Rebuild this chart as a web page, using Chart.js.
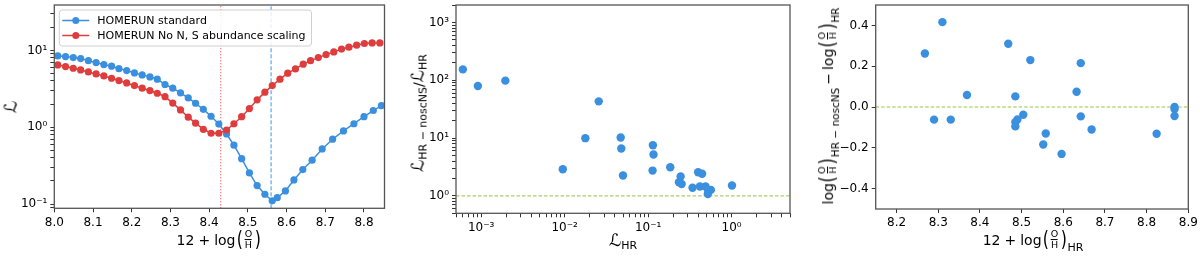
<!DOCTYPE html>
<html>
<head>
<meta charset="utf-8">
<script src="https://cdn.jsdelivr.net/npm/chart.js@4.4.1/dist/chart.umd.min.js"></script>
<style>
body { margin:0; background:#fff; width:1200px; height:256px; position:relative; overflow:hidden; font-family:'DejaVu Sans', sans-serif; }
.painel { position:absolute; top:0; width:400px; height:256px; }
.lbl { position:absolute; white-space:nowrap; color:#000; font-size:14px; line-height:1; display:flex; align-items:center; transform:translate(-50%,-50%); }
.rot { transform:translate(-50%,-50%) rotate(-90deg); }
.frac { display:inline-flex; flex-direction:column; align-items:center; font-size:9.5px; line-height:1.1; margin:0 1px; }
.frac .den { border-top:1px solid #000; }
.par { font-size:21px; line-height:1; transform:scaleX(0.75); }
.op { margin:0 4px; }
.cal { font-size:17px; font-style:italic; }
.sub { font-size:11px; align-self:flex-end; position:relative; top:2px; }
.aperta .op { margin:0 3px; }
.aperta .sub { font-size:10.5px; }
</style>
</head>
<body>
<div class="painel" style="left:0"><canvas id="line-chart" width="400" height="256"></canvas></div>
<div class="painel" style="left:400px"><canvas id="line-chart2" width="400" height="256"></canvas></div>
<div class="painel" style="left:800px"><canvas id="line-chart3" width="400" height="256"></canvas></div>

<!-- titulos dos eixos -->
<div class="lbl rot" style="left:11px;top:107px"><span class="cal">ℒ</span></div>
<div class="lbl" style="left:219px;top:240px">12<span class="op">+</span>log<span class="par">(</span><span class="frac"><span>O</span><span class="den">H</span></span><span class="par">)</span></div>

<div class="lbl rot" style="left:418px;top:113px"><span class="cal">ℒ</span><span class="sub">HR − noscNS</span>/<span class="cal">ℒ</span><span class="sub">HR</span></div>
<div class="lbl" style="left:623px;top:240px"><span class="cal">ℒ</span><span class="sub">HR</span></div>

<div class="lbl rot aperta" style="left:828px;top:106px">log<span class="par">(</span><span class="frac"><span>O</span><span class="den">H</span></span><span class="par">)</span><span class="sub">HR − noscNS</span><span class="op">−</span>log<span class="par">(</span><span class="frac"><span>O</span><span class="den">H</span></span><span class="par">)</span><span class="sub">HR</span></div>
<div class="lbl" style="left:1033px;top:240px">12<span class="op">+</span>log<span class="par">(</span><span class="frac"><span>O</span><span class="den">H</span></span><span class="par">)</span><span class="sub">HR</span></div>

<script>
// ////////// DADOS //////////

// grafico 1: likelihood vs 12+log(O/H)
var xGrid = [8.009, 8.029, 8.049, 8.068, 8.088, 8.108, 8.128, 8.148, 8.167, 8.187,
	8.207, 8.227, 8.247, 8.266, 8.286, 8.306, 8.326, 8.346, 8.365, 8.385,
	8.405, 8.425, 8.445, 8.464, 8.484, 8.504, 8.524, 8.544, 8.563, 8.583,
	8.603, 8.623, 8.643, 8.662, 8.682, 8.702, 8.722, 8.742, 8.761, 8.781,
	8.801, 8.821, 8.841];
var redL = [6.48, 6.15, 5.86, 5.57, 5.25, 4.94, 4.66, 4.34, 4.05, 3.77,
	3.48, 3.22, 3.00, 2.77, 2.50, 2.06, 1.68, 1.35, 1.13, 0.94,
	0.835, 0.835, 0.92, 1.11, 1.37, 1.75, 2.27, 2.86, 3.48, 4.22,
	5.05, 5.74, 6.61, 7.36, 8.06, 8.82, 9.56, 10.4, 11.0, 11.7,
	12.3, 12.5, 12.5];
var xBlue = [8.009, 8.029, 8.049, 8.068, 8.088, 8.108, 8.128, 8.148, 8.167, 8.187,
	8.207, 8.227, 8.247, 8.266, 8.286, 8.306, 8.326, 8.346, 8.365, 8.385,
	8.405, 8.425, 8.445, 8.464, 8.484, 8.504, 8.524, 8.544, 8.563,
	8.576, 8.597, 8.619, 8.642, 8.666, 8.692, 8.719, 8.747, 8.774, 8.800,
	8.824, 8.845];
var blueL = [8.48, 8.30, 8.06, 7.82, 7.36, 6.94, 6.53, 6.23, 5.79, 5.46,
	5.09, 4.80, 4.52, 4.22, 3.60, 3.22, 2.80, 2.41, 2.05, 1.71,
	1.39, 1.10, 0.818, 0.583, 0.390, 0.254, 0.174, 0.134, 0.110,
	0.121, 0.148, 0.206, 0.281, 0.372, 0.521, 0.698, 0.895, 1.11, 1.37,
	1.65, 1.91];
var bestRed = 8.43;
var bestBlue = 8.56;
var p1xLim = [8.0, 8.853];
var p1yLim = [0.088, 39];
var p1xTicks = [8.0, 8.1, 8.2, 8.3, 8.4, 8.5, 8.6, 8.7, 8.8];
var p1yMajor = [0.1, 1, 10];
var p1yLabels = ['10⁻¹', '10⁰', '10¹'];

// grafico 2: razao das likelihoods
var lHR = [6.04e-4, 9.14e-4, 1.95e-3, 9.5e-3, 0.0177, 0.0256, 0.0469, 0.0477, 0.050, 0.114,
	0.116, 0.113, 0.184, 0.245, 0.234, 0.252, 0.397, 0.443, 0.340, 0.417,
	0.487, 0.524, 0.564, 0.519, 1.01];
var ratio = [154, 79.3, 98.4, 2.89, 9.96, 43.1, 10.2, 6.6, 2.25, 7.5,
	5.2, 2.74, 3.13, 2.16, 1.72, 1.61, 2.56, 2.41, 1.38, 1.45,
	1.45, 1.24, 1.27, 1.08, 1.51];
var p2xLim = [5e-4, 5];
var p2yLim = [0.5, 2000];
var p2xMajor = [1e-3, 1e-2, 1e-1, 1];
var p2xLabels = ['10⁻³', '10⁻²', '10⁻¹', '10⁰'];
var p2yMajor = [1, 10, 100, 1000];
var p2yLabels = ['10⁰', '10¹', '10²', '10³'];

// grafico 3: diferenca de abundancia
var ohHR = [8.268, 8.310, 8.290, 8.330, 8.369, 8.468, 8.485, 8.485, 8.485, 8.490,
	8.504, 8.521, 8.558, 8.552, 8.596, 8.632, 8.642, 8.642, 8.668, 8.824,
	8.867, 8.867, 8.867];
var dOH = [0.262, 0.416, -0.062, -0.062, 0.059, 0.310, 0.052, -0.074, -0.095, -0.061,
	-0.038, 0.230, -0.130, -0.184, -0.230, 0.075, 0.215, -0.046, -0.110, -0.131,
	0.000, -0.010, -0.044];
var p3xLim = [8.15, 8.9];
var p3yLim = [-0.5, 0.5];
var p3xTicks = [8.2, 8.3, 8.4, 8.5, 8.6, 8.7, 8.8, 8.9];
var p3yTicks = [-0.4, -0.2, 0.0, 0.2, 0.4];
var p3yLabels = ['−0.4', '−0.2', '0.0', '0.2', '0.4'];

var blue = '#3b8fdf';
var red = '#df3d3d';
var green = '#94c63c';

Chart.defaults.font.family = "'DejaVu Sans', sans-serif";
Chart.defaults.font.size = 12;
Chart.defaults.color = '#000';

// ////////// AJUDANTES //////////

function pares(xs, ys) {
	return xs.map(function(x, i) { return { x: x, y: ys[i] }; });
}

// ticks menores de uma escala log (2..9 x 10^n)
function logTicks(lo, hi) {
	var t = [];
	for (var e = Math.floor(Math.log10(lo)); e <= Math.ceil(Math.log10(hi)); e++) {
		for (var m = 1; m < 10; m++) {
			var v = m * Math.pow(10, e);
			if (v >= lo && v <= hi) t.push(v);
		}
	}
	return t;
}

function labelFor(majors, labels) {
	return function(v) {
		for (var i = 0; i < majors.length; i++) {
			if (Math.abs(v - majors[i]) < Math.abs(majors[i]) * 1e-6 + 1e-9) return labels[i];
		}
		return '';
	};
}

function fixY(w) {
	return function(s) { s.width = w; s.paddingTop = 0; s.paddingBottom = 0; };
}
function fixX(h) {
	return function(s) { s.height = h; s.paddingLeft = 0; s.paddingRight = 0; };
}

var gridOpts = { drawOnChartArea: false, drawTicks: true, tickLength: 4, tickColor: '#333', tickWidth: 1 };

// moldura em volta da area do grafico
var caixa = {
	id: 'caixa',
	afterDatasetsDraw: function(chart) {
		var a = chart.chartArea, ctx = chart.ctx;
		ctx.save();
		ctx.strokeStyle = '#555';
		ctx.lineWidth = 1.3;
		ctx.strokeRect(a.left, a.top, a.right - a.left, a.bottom - a.top);
		ctx.restore();
	}
};

// legenda dentro do grafico 1
var legenda = {
	id: 'legenda',
	afterDraw: function(chart) {
		var ctx = chart.ctx, a = chart.chartArea;
		var itens = [chart.data.datasets[1], chart.data.datasets[0]];
		ctx.save();
		ctx.font = "11px 'DejaVu Sans'";
		var w = 0;
		itens.forEach(function(d) { w = Math.max(w, ctx.measureText(d.label).width); });
		var bx = a.left + 5, by = a.top + 5, bw = 38 + w + 6, bh = 36;
		ctx.beginPath();
		ctx.roundRect(bx, by, bw, bh, 3);
		ctx.fillStyle = 'rgba(255,255,255,0.85)';
		ctx.fill();
		ctx.strokeStyle = '#d0d0d0';
		ctx.lineWidth = 1;
		ctx.stroke();
		itens.forEach(function(d, i) {
			var y = by + 10.5 + i * 15;
			ctx.strokeStyle = d.borderColor;
			ctx.lineWidth = 1.5;
			ctx.beginPath();
			ctx.moveTo(bx + 3, y);
			ctx.lineTo(bx + 30, y);
			ctx.stroke();
			ctx.fillStyle = d.backgroundColor;
			ctx.beginPath();
			ctx.arc(bx + 16.5, y, 3.5, 0, Math.PI * 2);
			ctx.fill();
			ctx.fillStyle = '#000';
			ctx.textBaseline = 'middle';
			ctx.fillText(d.label, bx + 38, y + 0.5);
		});
		ctx.restore();
	}
};

// ////////// grafico 1 //////////
var grafico1 = new Chart(document.getElementById('line-chart'), {
	type: 'scatter',
	data: {
		datasets: [{
			label: 'HOMERUN No N, S abundance scaling',
			data: pares(xGrid, redL),
			showLine: true,
			borderColor: red,
			backgroundColor: red,
			borderWidth: 1.5,
			pointRadius: 3.6,
			pointBorderWidth: 0,
			order: 1
		}, {
			label: 'HOMERUN standard',
			data: pares(xBlue, blueL),
			showLine: true,
			borderColor: blue,
			backgroundColor: blue,
			borderWidth: 1.5,
			pointRadius: 3.6,
			pointBorderWidth: 0,
			order: 2
		}, {
			label: 'best red',
			data: [{ x: bestRed, y: p1yLim[0] }, { x: bestRed, y: p1yLim[1] }],
			showLine: true,
			borderColor: 'rgba(240,70,70,0.9)',
			borderWidth: 1,
			borderDash: [1.2, 1.8],
			pointRadius: 0,
			order: 3
		}, {
			label: 'best blue',
			data: [{ x: bestBlue, y: p1yLim[0] }, { x: bestBlue, y: p1yLim[1] }],
			showLine: true,
			borderColor: '#3399ee',
			borderWidth: 1,
			borderDash: [4, 2],
			pointRadius: 0,
			order: 3
		}]
	},
	options: {
		responsive: false,
		animation: false,
		layout: { padding: { left: 0, top: 5, right: 15.5, bottom: 0 } },
		plugins: { legend: { display: false }, tooltip: { enabled: false } },
		scales: {
			x: {
				type: 'linear', min: p1xLim[0], max: p1xLim[1],
				afterBuildTicks: function(s) { s.ticks = p1xTicks.map(function(v) { return { value: v }; }); },
				ticks: { autoSkip: false, maxRotation: 0, padding: 3, callback: function(v) { return v.toFixed(1); } },
				grid: gridOpts, border: { display: false },
				afterFit: fixX(47.7)
			},
			y: {
				type: 'logarithmic', min: p1yLim[0], max: p1yLim[1],
				afterBuildTicks: function(s) { s.ticks = logTicks(p1yLim[0], p1yLim[1]).map(function(v) { return { value: v }; }); },
				ticks: { autoSkip: false, padding: 3, callback: labelFor(p1yMajor, p1yLabels) },
				grid: gridOpts, border: { display: false },
				afterFit: fixY(54.3)
			}
		}
	},
	plugins: [caixa, legenda]
});

// ////////// grafico 2 //////////
var grafico2 = new Chart(document.getElementById('line-chart2'), {
	type: 'scatter',
	data: {
		datasets: [{
			label: 'ratio',
			data: pares(lHR, ratio),
			backgroundColor: blue,
			borderColor: blue,
			pointRadius: 4.2,
			pointBorderWidth: 0,
			order: 1
		}, {
			label: 'um',
			data: [{ x: p2xLim[0], y: 1 }, { x: p2xLim[1], y: 1 }],
			showLine: true,
			borderColor: green,
			borderWidth: 1,
			borderDash: [3.5, 2],
			pointRadius: 0,
			order: 2
		}]
	},
	options: {
		responsive: false,
		animation: false,
		layout: { padding: { left: 0, top: 5, right: 10, bottom: 0 } },
		plugins: { legend: { display: false }, tooltip: { enabled: false } },
		scales: {
			x: {
				type: 'logarithmic', min: p2xLim[0], max: p2xLim[1],
				afterBuildTicks: function(s) { s.ticks = logTicks(p2xLim[0], p2xLim[1]).map(function(v) { return { value: v }; }); },
				ticks: { autoSkip: false, maxRotation: 0, padding: 3, callback: labelFor(p2xMajor, p2xLabels) },
				grid: gridOpts, border: { display: false },
				afterFit: fixX(42.7)
			},
			y: {
				type: 'logarithmic', min: p2yLim[0], max: p2yLim[1],
				afterBuildTicks: function(s) { s.ticks = logTicks(p2yLim[0], p2yLim[1]).map(function(v) { return { value: v }; }); },
				ticks: { autoSkip: false, padding: 3, callback: labelFor(p2yMajor, p2yLabels) },
				grid: gridOpts, border: { display: false },
				afterFit: fixY(56)
			}
		}
	},
	plugins: [caixa]
});

// ////////// grafico 3 //////////
var grafico3 = new Chart(document.getElementById('line-chart3'), {
	type: 'scatter',
	data: {
		datasets: [{
			label: 'dOH',
			data: pares(ohHR, dOH),
			backgroundColor: blue,
			borderColor: blue,
			pointRadius: 4.2,
			pointBorderWidth: 0,
			order: 1
		}, {
			label: 'zero',
			data: [{ x: p3xLim[0], y: 0 }, { x: p3xLim[1], y: 0 }],
			showLine: true,
			borderColor: green,
			borderWidth: 1,
			borderDash: [3.5, 2],
			pointRadius: 0,
			order: 2
		}]
	},
	options: {
		responsive: false,
		animation: false,
		layout: { padding: { left: 0, top: 5, right: 11.7, bottom: 0 } },
		plugins: { legend: { display: false }, tooltip: { enabled: false } },
		scales: {
			x: {
				type: 'linear', min: p3xLim[0], max: p3xLim[1],
				afterBuildTicks: function(s) { s.ticks = p3xTicks.map(function(v) { return { value: v }; }); },
				ticks: { autoSkip: false, maxRotation: 0, padding: 3, callback: function(v) { return v.toFixed(1); } },
				grid: gridOpts, border: { display: false },
				afterFit: fixX(47)
			},
			y: {
				type: 'linear', min: p3yLim[0], max: p3yLim[1],
				afterBuildTicks: function(s) { s.ticks = p3yTicks.map(function(v) { return { value: v }; }); },
				ticks: { autoSkip: false, padding: 3, callback: labelFor(p3yTicks, p3yLabels) },
				grid: gridOpts, border: { display: false },
				afterFit: fixY(75.7)
			}
		}
	},
	plugins: [caixa]
});
</script>
</body>
</html>
